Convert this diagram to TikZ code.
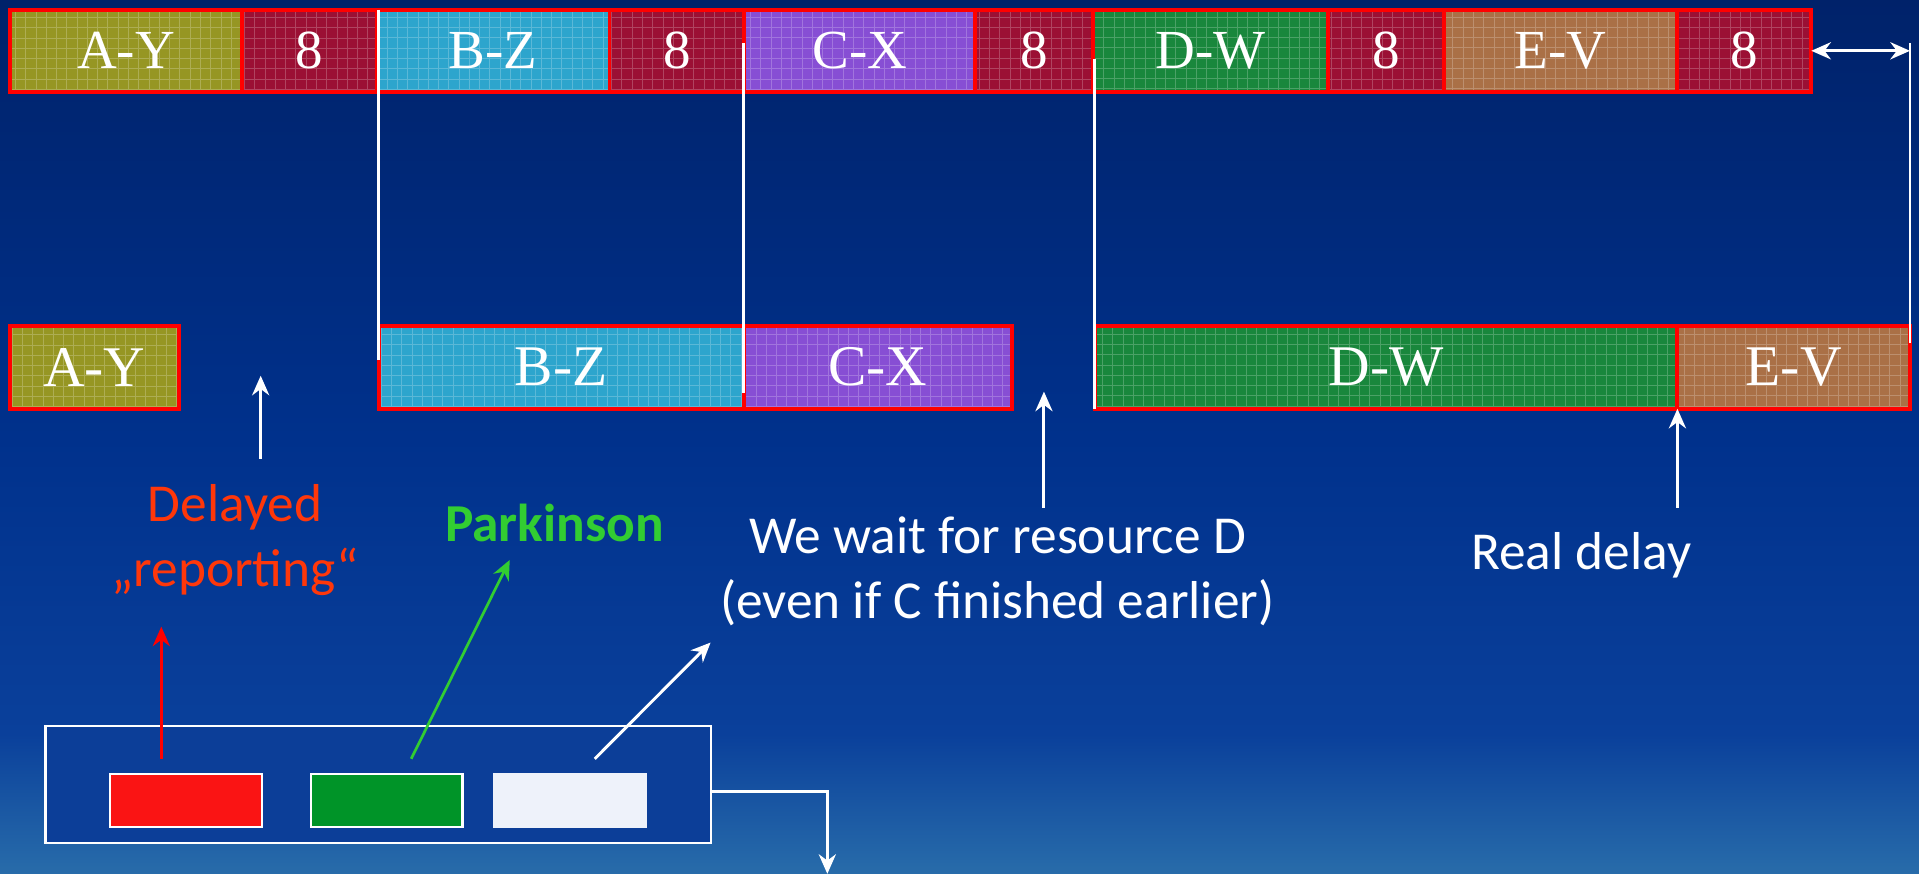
\documentclass[tikz,border=0pt]{standalone}
\usepackage{fontspec}
\setmainfont{Liberation Serif}
\newfontfamily\calibri{Carlito}
\usetikzlibrary{calc,arrows.meta,positioning}

\definecolor{bgtop}{RGB}{0,34,106}
\definecolor{bgmid}{RGB}{0,49,140}
\definecolor{bglow}{RGB}{10,64,155}
\definecolor{bgbot}{RGB}{40,108,170}
\definecolor{ayc}{RGB}{150,150,35}
\definecolor{eightc}{RGB}{155,16,52}
\definecolor{bzc}{RGB}{45,165,205}
\definecolor{cxc}{RGB}{135,78,212}
\definecolor{dwc}{RGB}{25,135,60}
\definecolor{evc}{RGB}{170,112,70}
\definecolor{legc}{RGB}{12,62,152}
\definecolor{keyred}{RGB}{250,20,20}
\definecolor{keygreen}{RGB}{0,148,40}
\definecolor{keywhite}{RGB}{238,242,250}
\definecolor{delayc}{RGB}{255,55,10}
\definecolor{parkc}{RGB}{50,205,50}

\pgfdeclareverticalshading{slidebg}{100bp}{color(0bp)=(bgbot); color(25bp)=(bgbot); color(33bp)=(bglow); color(50bp)=(bgmid); color(75bp)=(bgtop); color(100bp)=(bgtop)}

\begin{document}
\begin{tikzpicture}[x=0.5pt,y=-0.5pt,
  seg/.style = {draw=red, line width=1.6pt, fill=#1, inner sep=0pt, outer sep=0pt,
    minimum height=33.5pt, text=white, font=\fontsize{22.5}{24}\selectfont,
    path picture={\draw[#1!60!white, line width=0.4pt, opacity=0.55]
      (path picture bounding box.south west) grid[step=4.2pt]
      (path picture bounding box.north east);}},
  tall/.style = {minimum height=34pt, font=\fontsize{23.5}{24}\selectfont},
  key/.style = {draw=white, line width=1pt, fill=#1, inner sep=0pt,
    minimum width=62pt, minimum height=21.5pt},
  note/.style = {font=\calibri\fontsize{21.8}{26.5}\selectfont, align=center, text=white},
  guide/.style = {white, line width=1.2pt},
  pointer/.style = {->, white, line width=1.2pt},
  >={Stealth[length=8pt, width=7pt]}
  ]

  \shade[shading=slidebg] (0,0) rectangle (1568,714);
  \useasboundingbox (0,0) rectangle (1568,714);

  % planned chain
  \node[seg=ayc, minimum width=95pt, anchor=west] (ay1) at (8,41.5) {A-Y};
  \node[seg=eightc, minimum width=55pt, right=0pt of ay1] (n1) {8};
  \node[seg=bzc, minimum width=95pt, right=0pt of n1] (bz1) {B-Z};
  \node[seg=eightc, minimum width=55pt, right=0pt of bz1] (n2) {8};
  \node[seg=cxc, minimum width=94.5pt, right=0pt of n2] (cx1) {C-X};
  \node[seg=eightc, minimum width=48pt, right=0pt of cx1] (n3) {8};
  \node[seg=dwc, minimum width=96pt, right=0pt of n3] (dw1) {D-W};
  \node[seg=eightc, minimum width=47.5pt, right=0pt of dw1] (n4) {8};
  \node[seg=evc, minimum width=95pt, right=0pt of n4] (ev1) {E-V};
  \node[seg=eightc, minimum width=55pt, right=0pt of ev1] (n5) {8};

  % real chain
  \node[seg=ayc, tall, minimum width=69pt, anchor=west] (ay2) at (8,300) {A-Y};
  \node[seg=bzc, tall, minimum width=149pt, anchor=west] (bz2) at (309.6,300) {B-Z};
  \node[seg=cxc, tall, minimum width=109.5pt, right=0pt of bz2] (cx2) {C-X};
  \node[seg=dwc, tall, minimum width=238pt, anchor=west] (dw2) at (894.6,300) {D-W};
  \node[seg=evc, tall, minimum width=95pt, right=0pt of dw2] (ev2) {E-V};

  % guides
  \draw[guide] (bz2.north west |- ay1.north) -- ($(bz2.north west)+(0,28)$);
  \draw[guide] ($(cx2.north west |- ay1.north)+(0,27)$) -- ($(cx2.south west)+(0,-13)$);
  \draw[guide] ($(dw2.north west |- ay1.north)+(0,40)$) -- (dw2.south west);
  \coordinate (lim) at ($(ev2.north east |- ay1.north)+(0,27)$);
  \draw[guide] (lim) -- ($(ev2.north east)+(0,14)$);
  \draw[guide, <->] (n5.east) -- (n5.east -| lim);

  % notes
  \node[note, text=delayc] (delayed) at (192,441) {Delayed\\„reporting“};
  \node[note, text=parkc, font=\calibri\bfseries\fontsize{21.8}{26.5}\selectfont] (parkinson) at (453,427) {Parkinson};
  \node[note] (waitd) at (815,467) {We wait for resource D\\(even if C finished earlier)};
  \node[note] (realdelay) at (1292,454) {Real delay};

  \coordinate (up1) at (213,375);
  \coordinate (up2) at (853,415);
  \draw[pointer] (up1) -- ++(0,-68);
  \draw[pointer] (up2) -- ++(0,-95);
  \draw[pointer] ($(dw2.south east)+(0,81)$) -- (dw2.south east);

  % legend
  \node[draw=white, line width=1pt, fill=legc, inner sep=0pt,
    minimum width=272pt, minimum height=48pt] (legend) at (309,641) {};
  \node[key=keyred] (kred) at (152,654) {};
  \node[key=keygreen] (kgreen) at (316,654) {};
  \node[key=keywhite, draw=keywhite] (kwhite) at (466,654) {};

  \coordinate (rfoot) at (131.8,620);
  \coordinate (gfoot) at (336,620);
  \coordinate (wfoot) at (486,620);
  \coordinate (drop) at (676,714);
  \draw[->, red, line width=1.1pt] (rfoot) -- (131.8,512);
  \draw[->, parkc, line width=1.1pt] (gfoot) -- (416.5,457.5);
  \draw[pointer] (wfoot) -- (580.6,525);
  \draw[pointer] ($(legend.east)+(0,6)$) -| (drop);

\end{tikzpicture}
\end{document}
